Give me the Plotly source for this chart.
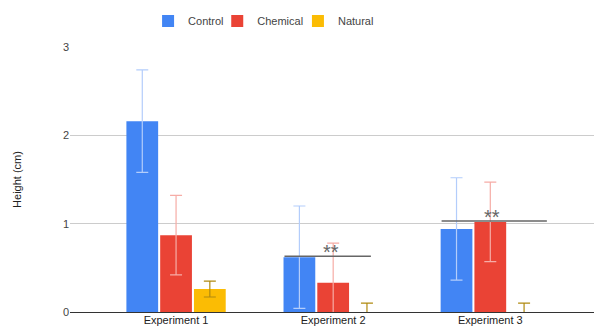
import plotly.graph_objects as go

categories = ["Experiment 1", "Experiment 2", "Experiment 3"]
series_names = ["Control", "Chemical", "Natural"]
control = [2.16, 0.62, 0.94]
chemical = [0.87, 0.33, 1.02]
natural = [0.26, 0.0, 0.0]
control_err = [0.58, 0.58, 0.58]
chemical_err = [0.45, 0.45, 0.45]
natural_err = [0.09, 0.1, 0.1]
y_ticks = [0, 1, 2, 3]

# significance markers: category index, y level, span (left, right offsets), label
sig_index = [1, 2]
sig_level = [0.63, 1.03]
sig_left = [-0.31, -0.31]
sig_right = [0.24, 0.36]
sig_text_offset = [-0.016, 0.013]
sig_label = ["**", "**"]

colors = ["#4285f4", "#ea4335", "#fbbc04"]
err_colors = ["#b3cdfb", "#f6aca6", "#b08a10"]
legend_ids = ["legend", "legend2", "legend3"]
legend_x = [0.149, 0.281, 0.435]

fig = go.Figure()
for name, vals, errs, c, ec, lid in zip(series_names, [control, chemical, natural],
                                        [control_err, chemical_err, natural_err], colors,
                                        err_colors, legend_ids):
    fig.add_trace(go.Bar(
        name=name, x=categories, y=vals, marker=dict(color=c, line=dict(width=0)),
        error_y=dict(type="data", array=errs, visible=True, color=ec, thickness=1.2, width=6),
        legend=lid, showlegend=True,
    ))

for i, lvl, l, r, off, lab in zip(sig_index, sig_level, sig_left, sig_right, sig_text_offset, sig_label):
    fig.add_shape(type="line", x0=i + l, x1=i + r, y0=lvl, y1=lvl, xref="x", yref="y",
                  line=dict(color="#666666", width=1.5))
    fig.add_annotation(x=i + off, y=lvl, text=lab, showarrow=False, yanchor="bottom", yshift=-9,
                       font=dict(family="Liberation Sans, Arial", size=20, color="#666666"))

legend_common = dict(orientation="h", xanchor="left", yref="container", y=0.936,
                     yanchor="middle", font=dict(size=11, color="#444444"), itemwidth=30,
                     bgcolor="rgba(0,0,0,0)", visible=True)
legends = {lid: dict(legend_common, x=lx) for lid, lx in zip(legend_ids, legend_x)}

fig.update_layout(
    width=594, height=328, showlegend=True,
    margin=dict(l=70, r=0, t=47, b=16, autoexpand=False),
    paper_bgcolor="white", plot_bgcolor="white",
    barmode="group", bargap=0.355, bargroupgap=0.06,
    font=dict(family="Liberation Sans, Arial", size=11, color="#222222"),
    xaxis=dict(range=[-0.675, 2.66], showgrid=False, ticks="", showline=False, automargin=False,
               tickfont=dict(size=11, color="#222222")),
    yaxis=dict(range=[0, 3], tickvals=y_ticks, showgrid=True, gridcolor="#cccccc", gridwidth=1,
               zeroline=True, zerolinecolor="#333333", zerolinewidth=1, automargin=False,
               tickfont=dict(size=11, color="#444444"), ticks="", ticklen=0,
               title=dict(text="Height (cm)", font=dict(size=11, color="#222222"), standoff=39)),
    **legends,
)
fig.write_html("out.html", post_script="document.body.style.margin='0';",
               config={"displayModeBar": False})
